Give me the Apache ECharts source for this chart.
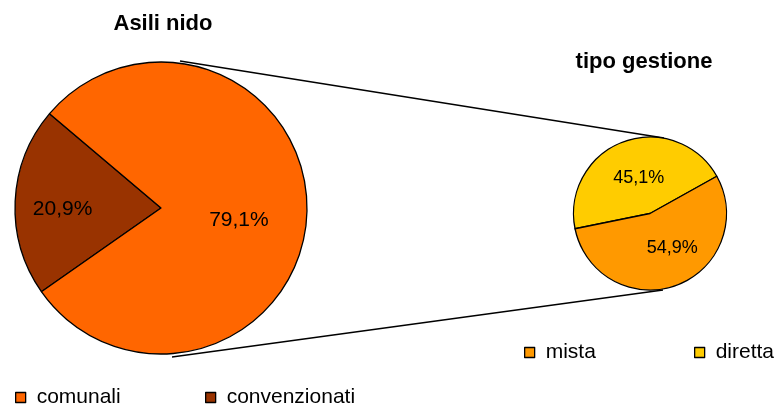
<!DOCTYPE html>
<html>
<head>
<meta charset="utf-8">
<script src="https://cdn.jsdelivr.net/npm/echarts@6/dist/echarts.min.js"></script>
<style>html,body{margin:0;padding:0;background:#fff;}#c{width:775px;height:405px;}</style>
</head>
<body>
<div id="c"></div>
<script>
// Main pie: Asili nido
const mainCategories = ['convenzionati', 'comunali'];
const mainValues = [20.9, 79.1];
const mainColors = ['#993300', '#FF6600'];
// Secondary pie: tipo gestione
const subCategories = ['diretta', 'mista'];
const subValues = [45.1, 54.9];
const subColors = ['#FFCC00', '#FF9900'];
const mainTitle = 'Asili nido';
const subTitle = 'tipo gestione';

const FONT = 'Liberation Sans, Arial, sans-serif';
const pct = v => v.toFixed(1).replace('.', ',') + '%';

// label nudges (rich-text padding) so labels sit where the reference places them
const richMain = {
  comunali: { fontFamily: FONT, fontSize: 21, color: '#000', padding: [18, 0, 0, 4] },
  convenzionati: { fontFamily: FONT, fontSize: 21, color: '#000', padding: [11, 0, 0, 9] }
};
const richSub = {
  diretta: { fontFamily: FONT, fontSize: 18, color: '#000', padding: [6, 0, 0, 6] },
  mista: { fontFamily: FONT, fontSize: 18, color: '#000', padding: [0, 0, 9, 16] }
};

const mainData = mainCategories.map((n, i) => ({ name: n, value: mainValues[i], itemStyle: { color: mainColors[i] } }));
const subData = subCategories.map((n, i) => ({ name: n, value: subValues[i], itemStyle: { color: subColors[i] } }));

const chart = echarts.init(document.getElementById('c'), null, { renderer: 'canvas' });

function legendFor(name, left, top) {
  return {
    data: [name], left: left, top: top, orient: 'horizontal', padding: 0,
    itemWidth: 10, itemHeight: 10, icon: 'rect', selectedMode: false,
    itemStyle: { borderColor: '#000', borderWidth: 1.3 },
    textStyle: { fontFamily: FONT, fontSize: 21, color: '#000', padding: [0, 0, 0, 6] }
  };
}

const option = {
  animation: false,
  backgroundColor: '#fff',
  title: [
    { text: mainTitle, left: 163, top: 24, textAlign: 'center', textVerticalAlign: 'middle', padding: 0,
      textStyle: { fontFamily: FONT, fontSize: 22, fontWeight: 'bold', color: '#000' } },
    { text: subTitle, left: 644, top: 62, textAlign: 'center', textVerticalAlign: 'middle', padding: 0,
      textStyle: { fontFamily: FONT, fontSize: 22, fontWeight: 'bold', color: '#000' } }
  ],
  legend: [
    legendFor('comunali', 15, 387),
    legendFor('convenzionati', 205, 387),
    legendFor('mista', 524, 342),
    legendFor('diretta', 694, 342)
  ],
  graphic: [
    { type: 'line', shape: { x1: 180, y1: 61, x2: 664, y2: 138 }, style: { stroke: '#000', lineWidth: 1.3 }, z: 1 },
    { type: 'line', shape: { x1: 172, y1: 357, x2: 663, y2: 290 }, style: { stroke: '#000', lineWidth: 1.3 }, z: 1 }
  ],
  series: [
    {
      type: 'pie', center: [161, 208], radius: 146, startAngle: 215, clockwise: true,
      z: 3, silent: true,
      itemStyle: { borderColor: '#000', borderWidth: 1.3 },
      label: { show: true, position: 'inside',
        formatter: p => p.name === 'comunali' ? '{comunali|' + pct(p.value) + '}' : '',
        rich: richMain },
      labelLine: { show: false },
      data: mainData
    },
    {
      // label overlay for the narrow slice (placed further out)
      type: 'pie', center: [161, 208], radius: [54, 146], startAngle: 215, clockwise: true,
      z: 4, silent: true,
      itemStyle: { color: 'rgba(0,0,0,0)', borderWidth: 0 },
      label: { show: true, position: 'inside',
        formatter: p => p.name === 'convenzionati' ? '{convenzionati|' + pct(p.value) + '}' : '',
        rich: richMain },
      labelLine: { show: false },
      data: mainCategories.map((n, i) => ({ name: n, value: mainValues[i], itemStyle: { color: 'rgba(0,0,0,0)' } }))
    },
    {
      type: 'pie', center: [650, 213.5], radius: 76.5, startAngle: 191.5, clockwise: true,
      z: 3, silent: true,
      itemStyle: { borderColor: '#000', borderWidth: 1.3 },
      label: { show: true, position: 'inside',
        formatter: p => '{' + p.name + '|' + pct(p.value) + '}',
        rich: richSub },
      labelLine: { show: false },
      data: subData
    }
  ]
};
chart.setOption(option);
</script>
</body>
</html>
